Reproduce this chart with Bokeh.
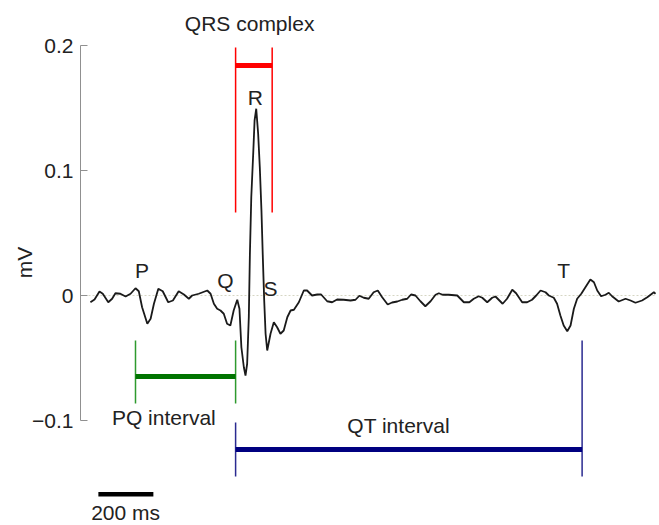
from bokeh.plotting import figure
from bokeh.models import Range1d, LinearAxis, FixedTicker
from bokeh.core.properties import value
from bokeh.embed import file_html
from bokeh.resources import INLINE

# ---- ECG trace (time in ms, voltage in mV) ----
time_ms = [36, 51, 69, 81, 101, 115, 127, 145, 164, 182, 200, 212, 224, 243, 255, 267, 283, 299,
           319, 336, 357, 376, 394, 406, 430, 461, 473, 485, 497, 509, 521, 533, 545, 557, 570,
           578, 585, 594, 600, 606, 612, 616, 621, 628, 633, 639, 646, 652, 658, 663, 668, 673,
           679, 691, 703, 715, 727, 739, 752, 764, 776, 794, 812, 824, 842, 861, 875, 897, 915,
           933, 957, 982, 1000, 1014, 1030, 1048, 1066, 1081, 1097, 1117, 1133, 1152, 1170, 1188,
           1202, 1218, 1236, 1254, 1273, 1291, 1303, 1317, 1339, 1370, 1394, 1414, 1430, 1448,
           1461, 1479, 1497, 1509, 1535, 1551, 1570, 1584, 1606, 1624, 1642, 1657, 1673, 1691,
           1703, 1721, 1733, 1745, 1757, 1770, 1782, 1794, 1806, 1821, 1836, 1854, 1867, 1879,
           1893, 1909, 1921, 1933, 1957, 1982, 2000, 2018, 2042, 2061, 2085, 2091]
voltage_mv = [-0.0054, -0.0032, 0.0032, 0.0014, -0.0054, -0.0026, 0.0018, 0.0014, -0.0008, 0.0014,
              0.0058, 0.0034, -0.0094, -0.0226, -0.0186, -0.0066, 0.0054, 0.0034, -0.0054, -0.0040,
              0.0034, 0.0008, -0.0026, 0.0, 0.0014, 0.0040, 0.0014, -0.0066, -0.0106, -0.0120,
              -0.0146, -0.0226, -0.0240, -0.0120, -0.0034, -0.0106, -0.0414, -0.0574, -0.0640,
              -0.0546, -0.0174, 0.0334, 0.0786, 0.1134, 0.1400, 0.1494, 0.1294, 0.1026, 0.0680,
              0.0306, -0.0040, -0.0306, -0.0440, -0.0306, -0.0214, -0.0254, -0.0306, -0.0280,
              -0.0174, -0.0120, -0.0114, -0.0054, 0.0040, 0.0040, 0.0, 0.0008, 0.0008, -0.0046,
              -0.0054, -0.0032, -0.0034, -0.0040, -0.0034, -0.0002, -0.0018, -0.0026, 0.0026,
              0.0040, -0.0014, -0.0072, -0.0056, -0.0048, -0.0034, -0.0026, 0.0008, 0.0, -0.0046,
              -0.0086, -0.0046, 0.0006, 0.0018, 0.0006, 0.0006, 0.0, -0.0054, -0.0054, -0.0026,
              -0.0006, -0.0018, -0.0054, -0.0018, -0.0008, -0.0066, -0.0026, 0.0046, 0.0018,
              -0.0054, -0.0054, -0.0034, 0.0, 0.0040, 0.0026, 0.0, -0.0018, -0.0066, -0.0160,
              -0.0240, -0.0286, -0.0240, -0.0106, -0.0026, 0.0014, 0.0066, 0.0128, 0.0106, 0.0040,
              -0.0006, 0.0006, 0.0022, -0.0006, -0.0048, -0.0026, -0.0040, -0.0058, -0.0040,
              -0.0014, 0.0026, 0.0014]

# ---- interval boundaries (ms) ----
p_onset = 200
q_onset = 564
s_end = 697
t_end = 1824

# ---- y ticks ----
y_ticks = [-0.1, 0, 0.1, 0.2]
y_tick_labels = ["\u22120.1", "0", "0.1", "0.2"]

# ---- wave labels ----
wave_names = ["P", "Q", "R", "S", "T"]
wave_t = [224, 527, 636, 691, 1757]
wave_v = [0.020, 0.012, 0.1586, 0.0054, 0.020]

scale_bar_ms = 200
scale_bar_start = 65

FONT = "Liberation Sans"
TXT = "#222222"
FS = "21px"

p = figure(width=656, height=524, output_backend="svg", toolbar_location=None,
           x_range=Range1d(0, 2094.5), y_range=Range1d(-0.1832, 0.236),
           x_axis_location=None, y_axis_location=None,
           min_border_left=80, min_border_right=0, min_border_top=0, min_border_bottom=0)
p.outline_line_color = None
p.grid.visible = False
p.background_fill_color = "white"
p.border_fill_color = "white"

yax = LinearAxis(bounds=(-0.1, 0.2), ticker=FixedTicker(ticks=y_ticks),
                 major_label_overrides={t: l for t, l in zip(y_ticks, y_tick_labels)},
                 axis_label="mV")
yax.axis_line_color = "#909090"
yax.major_tick_line_color = "#909090"
yax.major_tick_in = 7
yax.major_tick_out = 0
yax.minor_tick_line_color = None
yax.major_label_text_font = FONT
yax.major_label_text_font_size = FS
yax.major_label_text_color = TXT
yax.major_label_standoff = 7
yax.axis_label_text_font = FONT
yax.axis_label_text_font_size = FS
yax.axis_label_text_font_style = "normal"
yax.axis_label_text_color = TXT
yax.axis_label_standoff = -7
p.add_layout(yax, "left")

# zero reference line
p.line([0, 2094.5], [0, 0], line_color="#d6d6c4", line_width=1, line_dash="2 2")

# trace
p.line(time_ms, voltage_mv, line_color="#1a1a1a", line_width=1.8)

# QRS complex annotation
p.segment(x0=[q_onset, s_end], y0=[0.0664, 0.0664], x1=[q_onset, s_end], y1=[0.1984, 0.1984],
          line_color="#ff0000", line_width=1.5)
p.segment(x0=[q_onset], y0=[0.184], x1=[s_end], y1=[0.184], line_color="#ff0000", line_width=5)

# PQ interval
p.segment(x0=[p_onset, q_onset], y0=[-0.036, -0.036], x1=[p_onset, q_onset], y1=[-0.0864, -0.0864],
          line_color="#2e9a2e", line_width=1.5)
p.segment(x0=[p_onset], y0=[-0.0648], x1=[q_onset], y1=[-0.0648], line_color="#007400", line_width=5)

# QT interval
p.segment(x0=[q_onset, t_end], y0=[-0.1016, -0.036], x1=[q_onset, t_end], y1=[-0.1448, -0.1448],
          line_color="#2a2a90", line_width=1.5)
p.segment(x0=[q_onset], y0=[-0.1232], x1=[t_end], y1=[-0.1232], line_color="#000080", line_width=5)

# scale bar
p.segment(x0=[scale_bar_start], y0=[-0.159], x1=[scale_bar_start + scale_bar_ms], y1=[-0.159],
          line_color="black", line_width=4.5)

txt_kw = dict(text_font=value(FONT), text_font_size=FS, text_color=TXT,
              text_align="center", text_baseline="middle")
p.text(x=wave_t, y=wave_v, text=wave_names, **txt_kw)
p.text(x=[615, 303, 1157, 164], y=[0.2174, -0.0974, -0.104, -0.1736],
       text=["QRS complex", "PQ interval", "QT interval", "%d ms" % scale_bar_ms], **txt_kw)

open("out.html", "w").write(file_html(p, INLINE))
